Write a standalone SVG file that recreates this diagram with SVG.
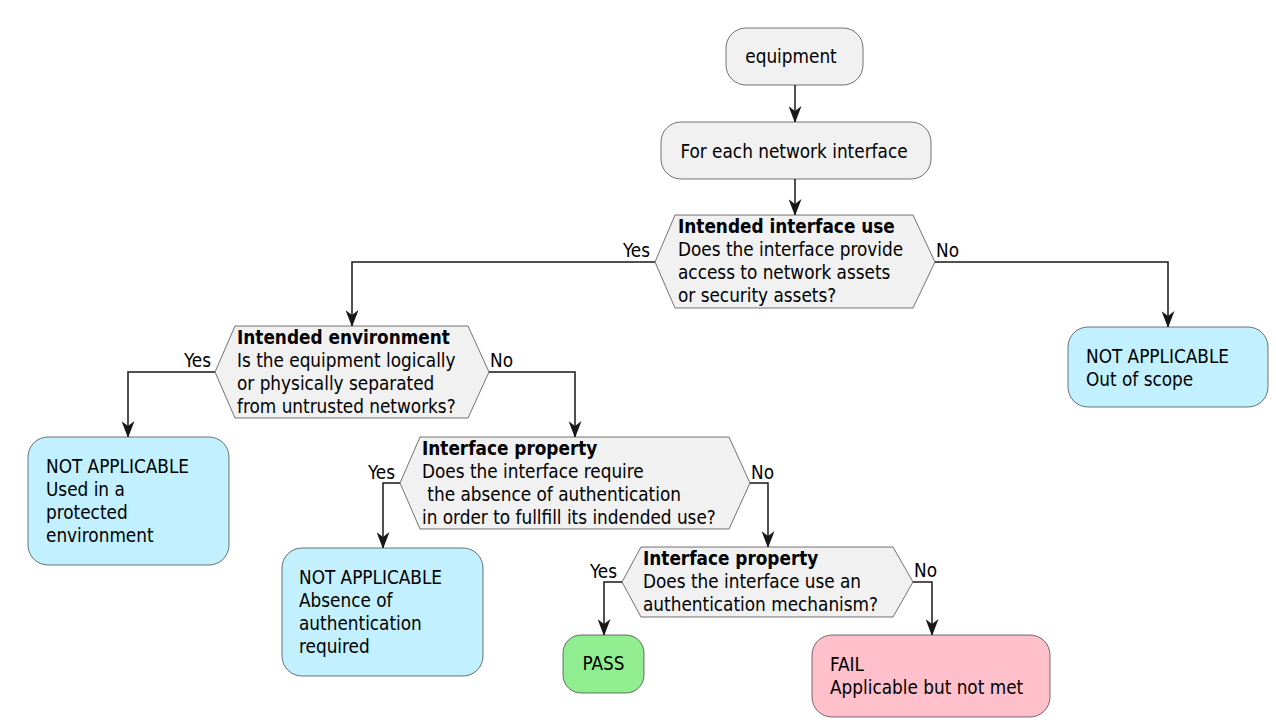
<svg xmlns="http://www.w3.org/2000/svg" width="1276" height="727" viewBox="0 0 1276 727">
<style>
text{font-family:"DejaVu Sans Condensed","DejaVu Sans",sans-serif;font-stretch:condensed;font-size:18.8px;fill:#000;white-space:pre}
.b{font-weight:bold}
.act{fill:#F1F1F1;stroke:#181818;stroke-width:0.6}
.na{fill:#C2F0FF;stroke:#181818;stroke-width:0.6}
.pass{fill:#90EE90;stroke:#181818;stroke-width:0.6}
.fail{fill:#FFC0CB;stroke:#181818;stroke-width:0.6}
.c{fill:none;stroke:#181818;stroke-width:1.5}
</style>
<defs>
<marker id="ah" viewBox="0 0 17 13" refX="16" refY="6.5" markerWidth="17" markerHeight="13" markerUnits="userSpaceOnUse" orient="auto">
<path d="M0,0 L17,6.5 L0,13 L5,6.5 Z" fill="#181818"/>
</marker>
</defs>
<rect width="1276" height="727" fill="#fff"/>

<g id="connectors">
<path class="c" d="M795,85 V122" marker-end="url(#ah)"/>
<path class="c" d="M795,179 V215" marker-end="url(#ah)"/>
<path class="c" d="M655,262 H352 V326" marker-end="url(#ah)"/>
<path class="c" d="M935,262 H1168 V327" marker-end="url(#ah)"/>
<path class="c" d="M215,372 H128 V437" marker-end="url(#ah)"/>
<path class="c" d="M489,372 H575 V437" marker-end="url(#ah)"/>
<path class="c" d="M400,483 H383 V548" marker-end="url(#ah)"/>
<path class="c" d="M750,483 H768 V547" marker-end="url(#ah)"/>
<path class="c" d="M622,582 H604 V635" marker-end="url(#ah)"/>
<path class="c" d="M913,582 H932 V635" marker-end="url(#ah)"/>
<text x="650" y="257" text-anchor="end">Yes</text>
<text x="936" y="257">No</text>
<text x="211" y="367" text-anchor="end">Yes</text>
<text x="490" y="367">No</text>
<text x="395" y="479" text-anchor="end">Yes</text>
<text x="751" y="479">No</text>
<text x="617" y="578" text-anchor="end">Yes</text>
<text x="914" y="577">No</text>
</g>

<g id="equipment">
<rect class="act" x="726" y="28" width="137" height="57" rx="20"/>
<text x="791" y="63" text-anchor="middle">equipment</text>
</g>

<g id="foreach">
<rect class="act" x="661" y="122" width="270" height="57" rx="20"/>
<text x="794" y="158" text-anchor="middle">For each network interface</text>
</g>

<g id="d1">
<polygon class="act" points="655,262 675,215 913,215 935,262 913,308 675,308"/>
<text class="b" x="678" y="233">Intended interface use</text>
<text x="678" y="256">Does the interface provide</text>
<text x="678" y="279">access to network assets</text>
<text x="678" y="302">or security assets?</text>
</g>

<g id="na_scope">
<rect class="na" x="1068" y="327" width="200" height="80" rx="20"/>
<text x="1086" y="363">NOT APPLICABLE</text>
<text x="1086" y="386">Out of scope</text>
</g>

<g id="d2">
<polygon class="act" points="215,372 235,326 468,326 489,372 468,418 235,418"/>
<text class="b" x="237" y="344">Intended environment</text>
<text x="237" y="367">Is the equipment logically</text>
<text x="237" y="390">or physically separated</text>
<text x="237" y="413">from untrusted networks?</text>
</g>

<g id="na_env">
<rect class="na" x="28" y="437" width="201" height="128" rx="20"/>
<text x="46" y="473">NOT APPLICABLE</text>
<text x="46" y="496">Used in a</text>
<text x="46" y="519">protected</text>
<text x="46" y="542">environment</text>
</g>

<g id="d3">
<polygon class="act" points="400,483 420,437 729,437 750,483 729,529 420,529"/>
<text class="b" x="422" y="455">Interface property</text>
<text x="422" y="478">Does the interface require</text>
<text x="422" y="501"> the absence of authentication</text>
<text x="422" y="524">in order to fullfill its indended use?</text>
</g>

<g id="na_auth">
<rect class="na" x="282" y="548" width="201" height="128" rx="20"/>
<text x="299" y="584">NOT APPLICABLE</text>
<text x="299" y="607">Absence of</text>
<text x="299" y="630">authentication</text>
<text x="299" y="653">required</text>
</g>

<g id="d4">
<polygon class="act" points="622,582 641,547 893,547 913,582 893,617 641,617"/>
<text class="b" x="643" y="565">Interface property</text>
<text x="643" y="588">Does the interface use an</text>
<text x="643" y="611">authentication mechanism?</text>
</g>

<g id="pass">
<rect class="pass" x="563" y="635" width="81" height="58" rx="18"/>
<text x="603.5" y="670" text-anchor="middle">PASS</text>
</g>

<g id="fail">
<rect class="fail" x="812" y="635" width="238" height="82" rx="20"/>
<text x="830" y="671">FAIL</text>
<text x="830" y="694">Applicable but not met</text>
</g>
</svg>
